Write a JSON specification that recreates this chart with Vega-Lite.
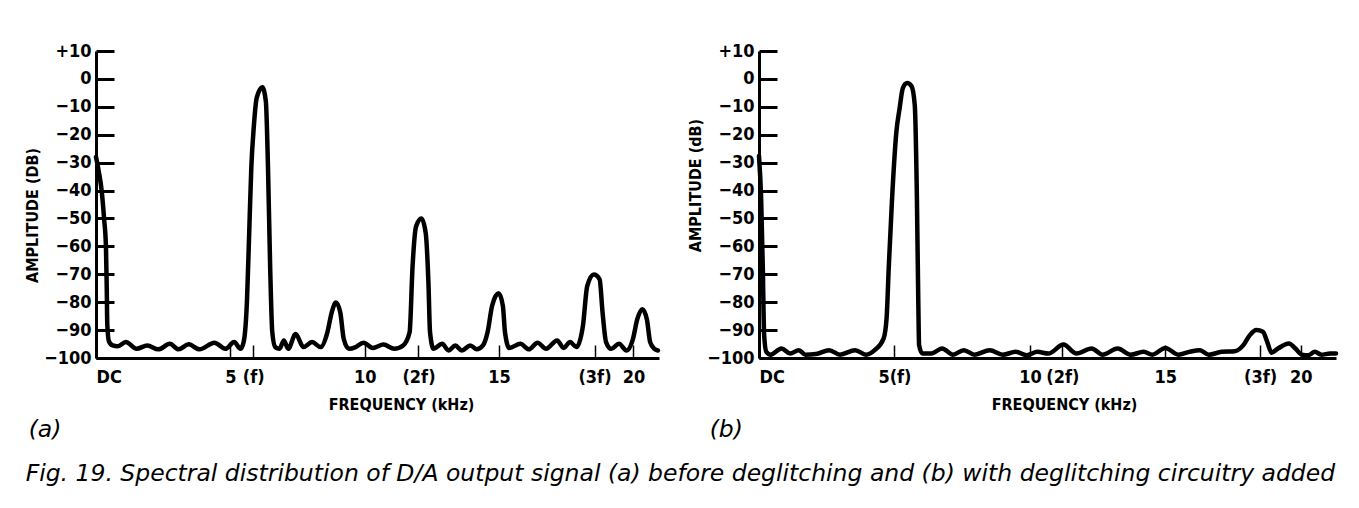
{
  "$schema": "https://vega.github.io/schema/vega-lite/v6.json",
  "background": "white",
  "padding": {"left": 24, "top": 42, "right": 5, "bottom": 5},
  "autosize": {"type": "pad"},
  "title": {
    "text": "Fig. 19. Spectral distribution of D/A output signal (a) before deglitching and (b) with deglitching circuitry added",
    "orient": "bottom", "anchor": "start", "frame": "bounds",
    "font": "DejaVu Sans", "fontStyle": "italic", "fontWeight": "normal", "fontSize": 23.5, "color": "black", "offset": 20, "dx": 1
  },
  "spacing": 26,
  "datasets": {
    "a": [
      {"khz": 0, "db": -28}, {"khz": 0.1, "db": -33}, {"khz": 0.21, "db": -40}, {"khz": 0.3, "db": -50}, {"khz": 0.37, "db": -60}, {"khz": 0.4, "db": -75}, {"khz": 0.42, "db": -88}, {"khz": 0.48, "db": -94}, {"khz": 0.62, "db": -95.5}, {"khz": 0.8, "db": -95.8}, {"khz": 1.11, "db": -94.3}, {"khz": 1.51, "db": -96.7}, {"khz": 1.91, "db": -95.5}, {"khz": 2.32, "db": -96.9}, {"khz": 2.75, "db": -94.9}, {"khz": 3.07, "db": -96.9}, {"khz": 3.45, "db": -95.1}, {"khz": 3.85, "db": -96.9}, {"khz": 4.41, "db": -94.5}, {"khz": 4.82, "db": -96.7}, {"khz": 5.14, "db": -94.3}, {"khz": 5.38, "db": -96.7}, {"khz": 5.5, "db": -94}, {"khz": 5.62, "db": -79}, {"khz": 5.7, "db": -55.3}, {"khz": 5.78, "db": -31.6}, {"khz": 5.87, "db": -17.4}, {"khz": 5.98, "db": -6.8}, {"khz": 6.19, "db": -3.0}, {"khz": 6.32, "db": -8.0}, {"khz": 6.4, "db": -31.6}, {"khz": 6.48, "db": -67.1}, {"khz": 6.56, "db": -90.8}, {"khz": 6.67, "db": -96.1}, {"khz": 6.83, "db": -96.7}, {"khz": 6.99, "db": -93.7}, {"khz": 7.15, "db": -96.7}, {"khz": 7.43, "db": -91.4}, {"khz": 7.72, "db": -96.1}, {"khz": 8.04, "db": -94.3}, {"khz": 8.36, "db": -96.1}, {"khz": 8.61, "db": -90.8}, {"khz": 8.77, "db": -83.7}, {"khz": 8.93, "db": -80.1}, {"khz": 9.09, "db": -83.7}, {"khz": 9.22, "db": -93.2}, {"khz": 9.41, "db": -96.7}, {"khz": 9.66, "db": -96.1}, {"khz": 9.95, "db": -94.5}, {"khz": 10.3, "db": -96.4}, {"khz": 10.7, "db": -95.2}, {"khz": 11.1, "db": -96.7}, {"khz": 11.43, "db": -95.5}, {"khz": 11.67, "db": -90.8}, {"khz": 11.78, "db": -67.1}, {"khz": 11.91, "db": -52.9}, {"khz": 12.11, "db": -50.0}, {"khz": 12.27, "db": -55.3}, {"khz": 12.37, "db": -73.0}, {"khz": 12.43, "db": -90.8}, {"khz": 12.56, "db": -96.7}, {"khz": 12.88, "db": -94.9}, {"khz": 13.12, "db": -97.3}, {"khz": 13.37, "db": -95.5}, {"khz": 13.61, "db": -97.3}, {"khz": 13.93, "db": -95.5}, {"khz": 14.17, "db": -96.9}, {"khz": 14.4, "db": -95.5}, {"khz": 14.57, "db": -90.8}, {"khz": 14.74, "db": -81.3}, {"khz": 14.98, "db": -76.8}, {"khz": 15.14, "db": -81.3}, {"khz": 15.22, "db": -90.8}, {"khz": 15.38, "db": -96.4}, {"khz": 15.79, "db": -94.9}, {"khz": 16.11, "db": -96.9}, {"khz": 16.43, "db": -94.5}, {"khz": 16.75, "db": -96.7}, {"khz": 17.16, "db": -93.7}, {"khz": 17.4, "db": -96.4}, {"khz": 17.64, "db": -94.3}, {"khz": 17.88, "db": -96.1}, {"khz": 18.12, "db": -88.4}, {"khz": 18.28, "db": -74.2}, {"khz": 18.53, "db": -70.1}, {"khz": 18.74, "db": -71.8}, {"khz": 18.85, "db": -83.7}, {"khz": 18.98, "db": -94.3}, {"khz": 19.17, "db": -96.7}, {"khz": 19.46, "db": -94.9}, {"khz": 19.74, "db": -97.3}, {"khz": 19.98, "db": -93.2}, {"khz": 20.14, "db": -86.2}, {"khz": 20.33, "db": -82.5}, {"khz": 20.5, "db": -86.2}, {"khz": 20.62, "db": -94.3}, {"khz": 20.78, "db": -96.7}, {"khz": 20.91, "db": -97.3}
    ],
    "b": [
      {"khz": 0, "db": -27.6}, {"khz": 0.08, "db": -43.3}, {"khz": 0.14, "db": -67.5}, {"khz": 0.19, "db": -91.8}, {"khz": 0.27, "db": -97.8}, {"khz": 0.43, "db": -98.8}, {"khz": 0.83, "db": -96.6}, {"khz": 1.15, "db": -98.4}, {"khz": 1.47, "db": -97.2}, {"khz": 1.71, "db": -98.8}, {"khz": 2.1, "db": -98.6}, {"khz": 2.59, "db": -97.2}, {"khz": 2.99, "db": -98.8}, {"khz": 3.55, "db": -97.2}, {"khz": 3.95, "db": -98.8}, {"khz": 4.27, "db": -97.2}, {"khz": 4.6, "db": -93.0}, {"khz": 4.71, "db": -85.7}, {"khz": 4.79, "db": -67.5}, {"khz": 4.91, "db": -43.3}, {"khz": 5.07, "db": -19.1}, {"khz": 5.19, "db": -10.6}, {"khz": 5.31, "db": -3.3}, {"khz": 5.47, "db": -1.5}, {"khz": 5.63, "db": -2.6}, {"khz": 5.75, "db": -9.4}, {"khz": 5.83, "db": -43.3}, {"khz": 5.88, "db": -79.6}, {"khz": 5.91, "db": -95.4}, {"khz": 6.03, "db": -98.4}, {"khz": 6.36, "db": -98.4}, {"khz": 6.76, "db": -96.6}, {"khz": 7.16, "db": -98.8}, {"khz": 7.56, "db": -97.2}, {"khz": 7.96, "db": -98.8}, {"khz": 8.52, "db": -97.2}, {"khz": 9.0, "db": -98.8}, {"khz": 9.48, "db": -97.8}, {"khz": 9.88, "db": -99.0}, {"khz": 10.28, "db": -97.8}, {"khz": 10.68, "db": -98.4}, {"khz": 11.24, "db": -95.2}, {"khz": 11.72, "db": -98.4}, {"khz": 12.28, "db": -96.6}, {"khz": 12.68, "db": -98.8}, {"khz": 13.24, "db": -96.6}, {"khz": 13.72, "db": -98.8}, {"khz": 14.2, "db": -97.8}, {"khz": 14.52, "db": -98.8}, {"khz": 15.0, "db": -96.4}, {"khz": 15.48, "db": -98.8}, {"khz": 15.88, "db": -97.8}, {"khz": 16.28, "db": -97.2}, {"khz": 16.6, "db": -98.8}, {"khz": 17.08, "db": -97.8}, {"khz": 17.56, "db": -97.6}, {"khz": 17.88, "db": -95.4}, {"khz": 18.12, "db": -91.8}, {"khz": 18.36, "db": -90.0}, {"khz": 18.6, "db": -90.6}, {"khz": 18.76, "db": -94.2}, {"khz": 18.92, "db": -98.1}, {"khz": 19.16, "db": -96.6}, {"khz": 19.56, "db": -94.8}, {"khz": 19.8, "db": -96.6}, {"khz": 20.04, "db": -98.8}, {"khz": 20.28, "db": -99.0}, {"khz": 20.52, "db": -97.8}, {"khz": 20.76, "db": -98.8}, {"khz": 21.08, "db": -98.4}, {"khz": 21.3, "db": -98.4}
    ]
  },
  "config": {
    "view": {"stroke": null},
    "axis": {
      "grid": false,
      "domainColor": "black", "domainWidth": 3,
      "tickColor": "black",
      "labelFont": "DejaVu Sans Condensed, sans-serif", "labelFontWeight": "bold", "labelFontSize": 18, "labelColor": "black",
      "titleFont": "DejaVu Sans Condensed, sans-serif", "titleFontWeight": "bold", "titleFontSize": 16, "titleColor": "black",
      "labelOverlap": false, "labelBound": false
    },
    "axisY": {"tickSize": -18, "tickWidth": 3, "labelPadding": 23, "titlePadding": 3},
    "axisX": {"tickSize": -13, "tickWidth": 1.5, "labelPadding": 23, "titlePadding": 10, "labelFlush": true},
    "title": {"color": "black"}
  },
  "hconcat": [
    {
      "width": 563, "height": 307,
      "title": {"text": "(a)", "orient": "bottom", "anchor": "start", "frame": "bounds", "font": "DejaVu Sans", "fontStyle": "italic", "fontWeight": "normal", "fontSize": 23.5, "offset": 6, "dx": 4},
      "data": {"name": "a"},
      "mark": {"type": "line", "interpolate": "monotone", "strokeWidth": 4.5, "color": "black", "strokeCap": "round", "strokeJoin": "round"},
      "encoding": {
        "x": {"field": "khz", "type": "quantitative",
          "scale": {"domain": [0, 20.95], "nice": false, "zero": false},
          "axis": {"title": "FREQUENCY (kHz)", "titleX": 305, "values": [0, 5, 5.85, 10, 12, 15, 18.55, 20],
            "labelExpr": "datum.value == 0 ? 'DC' : datum.value == 5.85 ? '(f)' : datum.value == 12 ? '(2f)' : datum.value == 18.55 ? '(3f)' : datum.label"}},
        "y": {"field": "db", "type": "quantitative",
          "scale": {"domain": [-100, 10], "nice": false, "zero": false},
          "axis": {"title": "AMPLITUDE (DB)", "titleY": 164, "values": [-100, -90, -80, -70, -60, -50, -40, -30, -20, -10, 0, 10],
            "labelExpr": "datum.value > 0 ? '+' + datum.value : datum.value < 0 ? '\u2212' + (-datum.value) : '0'"}}
      }
    },
    {
      "width": 577, "height": 307,
      "title": {"text": "(b)", "orient": "bottom", "anchor": "start", "frame": "bounds", "font": "DejaVu Sans", "fontStyle": "italic", "fontWeight": "normal", "fontSize": 23.5, "offset": 6, "dx": 22},
      "data": {"name": "b"},
      "mark": {"type": "line", "interpolate": "monotone", "strokeWidth": 4.5, "color": "black", "strokeCap": "round", "strokeJoin": "round"},
      "encoding": {
        "x": {"field": "khz", "type": "quantitative",
          "scale": {"domain": [0, 21.3], "nice": false, "zero": false},
          "axis": {"title": "FREQUENCY (kHz)", "titleX": 305, "values": [0, 5, 10, 11.2, 15, 18.5, 20],
            "labelExpr": "datum.value == 0 ? 'DC' : datum.value == 5 ? '5(f)' : datum.value == 11.2 ? '(2f)' : datum.value == 18.5 ? '(3f)' : datum.label"}},
        "y": {"field": "db", "type": "quantitative",
          "scale": {"domain": [-100, 10], "nice": false, "zero": false},
          "axis": {"title": "AMPLITUDE (dB)", "titleY": 134, "values": [-100, -90, -80, -70, -60, -50, -40, -30, -20, -10, 0, 10],
            "labelExpr": "datum.value > 0 ? '+' + datum.value : datum.value < 0 ? '\u2212' + (-datum.value) : '0'"}}
      }
    }
  ]
}
